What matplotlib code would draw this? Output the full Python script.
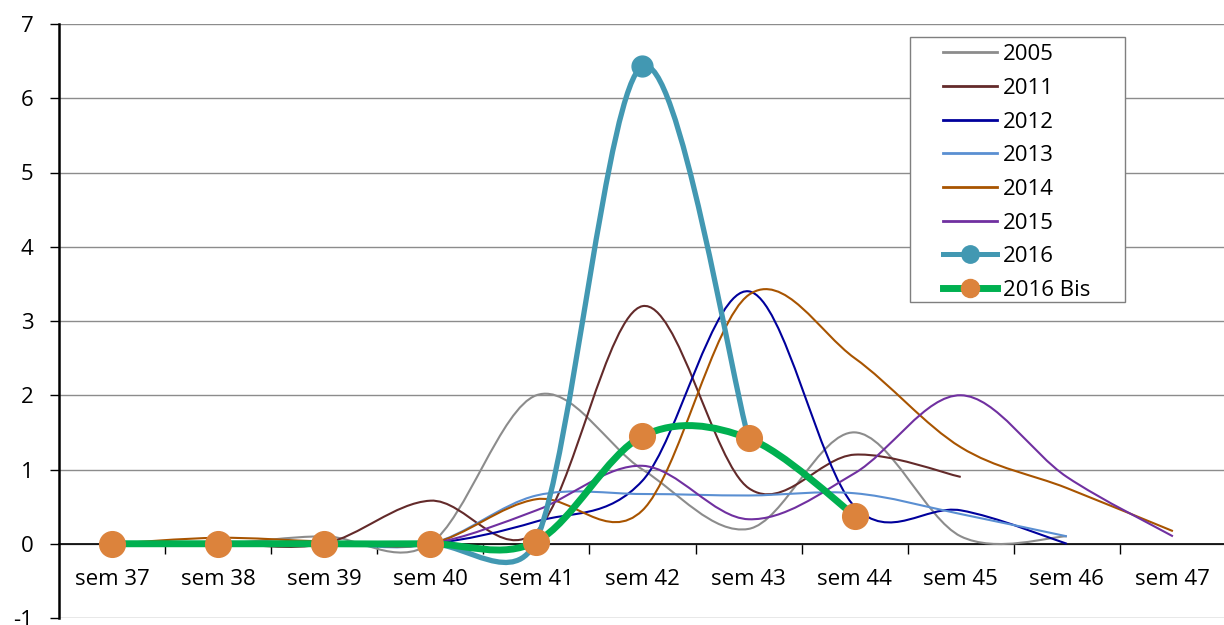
import numpy as np
import matplotlib.pyplot as plt
from matplotlib.path import Path
from matplotlib.patches import PathPatch, Rectangle
from matplotlib.lines import Line2D
from matplotlib.legend_handler import HandlerLine2D

plt.rcParams['font.family'] = ['Open Sans', 'DejaVu Sans']
plt.rcParams['axes.unicode_minus'] = False

# data
weeks = ['sem 37', 'sem 38', 'sem 39', 'sem 40', 'sem 41', 'sem 42',
         'sem 43', 'sem 44', 'sem 45', 'sem 46', 'sem 47']

y2005 = [0, 0, 0.1, 0, 2.0, 1.0, 0.2, 1.5, 0.1, 0.1]
y2011 = [0, 0, 0, 0.58, 0.17, 3.2, 0.75, 1.2, 0.9]
y2012 = [0, 0, 0, 0, 0.3, 0.85, 3.4, 0.5, 0.45, 0]
y2013 = [0, 0, 0, 0, 0.65, 0.67, 0.65, 0.68, 0.4, 0.1]
y2014 = [0, 0.08, 0.03, 0, 0.6, 0.45, 3.35, 2.5, 1.3, 0.75, 0.17]
y2015 = [0, 0, 0, 0, 0.45, 1.05, 0.33, 0.95, 2.0, 0.9, 0.1]
y2016 = [0, 0, 0, 0, 0.05, 6.43, 1.42]
y2016_bis = [0, 0, 0, 0, 0.03, 1.45, 1.42, 0.38]

thin_series = [
    ('2005', y2005, '#8c8c8c'),
    ('2011', y2011, '#632a2a'),
    ('2012', y2012, '#00009c'),
    ('2013', y2013, '#5a8fd2'),
    ('2014', y2014, '#a85400'),
    ('2015', y2015, '#7030a0'),
]
teal = '#4298b2'
green = '#00b050'
orange = '#dc833c'

# pixels per data unit, only used to weigh the smoothing like Excel does
PX_X, PX_Y = 106.1, 74.25


def smooth_path(values):
    # Excel-like smoothed line: cubic Bezier, arms limited on short segments
    pts = np.column_stack([np.arange(len(values)), values]).astype(float)
    scr = pts * [PX_X, PX_Y]
    n = len(pts)

    def dist(a, b):
        return np.hypot(*(scr[a] - scr[b]))

    verts = [pts[0]]
    codes = [Path.MOVETO]
    for i in range(n - 1):
        i0, i1, i2, i3 = max(i - 1, 0), i, i + 1, min(i + 2, n - 1)
        d12 = dist(i1, i2)
        d02 = dist(i0, i2)
        d13 = dist(i1, i3)
        f1 = min(1 / 6, 0.5 * d12 / d02) if d02 > 0 else 0
        f2 = min(1 / 6, 0.5 * d12 / d13) if d13 > 0 else 0
        c1 = pts[i1] + f1 * (pts[i2] - pts[i0])
        c2 = pts[i2] - f2 * (pts[i3] - pts[i1])
        verts += [c1, c2, pts[i2]]
        codes += [Path.CURVE4] * 3
    return Path(verts, codes)


fig = plt.figure(figsize=(12.24, 6.25), dpi=100)
ax = fig.add_axes([0.0482, 0.0112, 0.9534, 0.9504])

for name, vals, col in thin_series:
    ax.add_patch(PathPatch(smooth_path(vals), fill=False, edgecolor=col,
                           lw=1.5, zorder=3, capstyle='butt'))

ax.add_patch(PathPatch(smooth_path(y2016), fill=False, edgecolor=teal,
                       lw=3.8, zorder=4))
ax.plot(range(len(y2016)), y2016, 'o', color=teal, ms=15, zorder=4.1)

ax.add_patch(PathPatch(smooth_path(y2016_bis), fill=False, edgecolor=green,
                       lw=5, zorder=4.2))
ax.plot(range(len(y2016_bis)), y2016_bis, 'o', color=orange, ms=18.5,
        zorder=4.3)

ax.set_xlim(-0.5, 10.5)
ax.set_ylim(-1, 7)
ax.spines['bottom'].set_position(('data', 0))
ax.spines['bottom'].set_linewidth(1.2)
ax.spines['left'].set_linewidth(1.8)
ax.spines['top'].set_visible(False)
ax.spines['right'].set_visible(False)

ax.set_yticks(range(-1, 8))
ax.yaxis.grid(True, color='#8c8c8c', lw=1)
ax.set_axisbelow(True)
ax.set_xticks(range(len(weeks)))
ax.set_xticklabels(weeks)
ax.set_xticks(np.arange(0.5, len(weeks) - 1, 1), minor=True)
ax.tick_params(axis='x', which='major', length=0, pad=18, labelsize=16)
ax.tick_params(axis='x', which='minor', length=7, width=1, direction='out')
ax.tick_params(axis='y', length=6.5, width=1, pad=12, labelsize=16)

# legend
ax.add_patch(Rectangle((0.7292, 0.532), 0.1843, 0.446, transform=ax.transAxes,
                       facecolor='white', edgecolor='#7f7f7f', lw=1,
                       zorder=4.5))
handles = [Line2D([], [], color=c, lw=2) for _, _, c in thin_series]
handles.append(Line2D([], [], color=teal, lw=3.6, marker='o', ms=12.5))
handles.append(Line2D([], [], color=green, lw=5, marker='o', ms=13,
                      markerfacecolor=orange, markeredgecolor=orange))
labels = [s[0] for s in thin_series] + ['2016', '2016 Bis']
ax.legend(handles, labels, loc='upper left', bbox_to_anchor=(0.7575, 0.966),
          frameon=False, fontsize=16, borderpad=0, borderaxespad=0,
          handlelength=2.43, handletextpad=0.25, labelspacing=0.57,
          numpoints=1, handler_map={Line2D: HandlerLine2D(numpoints=1)})
ax.get_legend().set_zorder(5)

fig.savefig('out.png', dpi=100)
